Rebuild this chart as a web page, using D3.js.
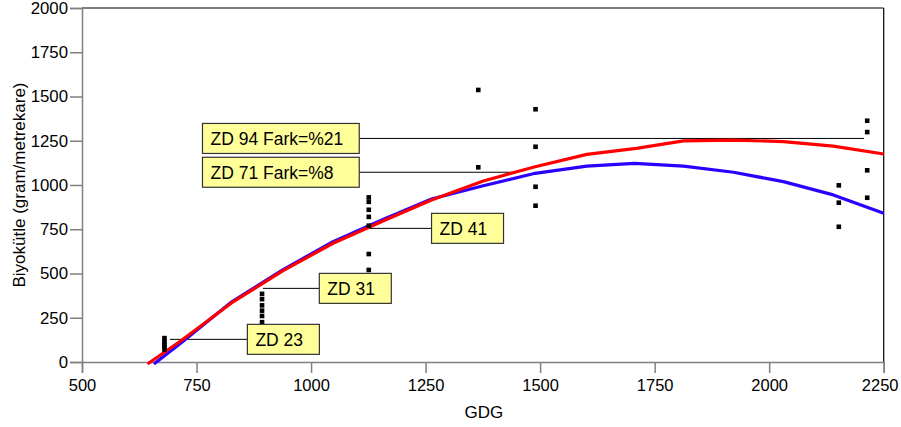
<!DOCTYPE html>
<html>
<head>
<meta charset="utf-8">
<script src="https://cdn.jsdelivr.net/npm/d3@7"></script>
<style>
  html, body { margin: 0; padding: 0; background: #fff; }
  svg { display: block; font-family: "Liberation Sans", Arial, sans-serif; }
</style>
</head>
<body>
<svg id="chart" width="901" height="427"></svg>
<script>
// Observed biomass samples (GDG, g/m²)
const obsGDG = [
  680, 680, 680, 680, 680,
  893, 893, 893, 893, 893, 893,
  1126, 1126, 1126, 1126, 1126, 1126, 1126,
  1365, 1365,
  1490, 1490, 1490, 1490,
  2152, 2152, 2152,
  2214, 2214, 2214, 2214
];
const obsBiomass = [
  135, 115, 100, 85, 70,
  385, 355, 320, 290, 260, 225,
  930, 905, 860, 820, 770, 610, 520,
  1537, 1100,
  1428, 1216, 990, 883,
  998, 900, 764,
  1363, 1299, 1083, 928
];

// Fitted growth curves
const blueGDG = [657, 716, 827, 939, 1048, 1157, 1263, 1376, 1489, 1602, 1706, 1813, 1922, 2031, 2140, 2250];
const blueVal = [-11, 108, 340, 522, 680, 805, 921, 996, 1066, 1107, 1122, 1107, 1072, 1019, 944, 840];
const redGDG  = [643, 716, 827, 939, 1048, 1157, 1263, 1376, 1489, 1602, 1710, 1813, 1922, 2031, 2140, 2250];
const redVal  = [-11, 120, 335, 516, 671, 797, 915, 1023, 1103, 1173, 1207, 1249, 1254, 1245, 1220, 1175];

// Growth stage callouts
const calloutLabels = ["ZD 94 Fark=%21", "ZD 71 Fark=%8", "ZD 41", "ZD 31", "ZD 23"];
const calloutGDG    = [2207, 1449, 1126, 895, 692];
const calloutVal    = [1263, 1072, 755, 416, 128];
const calloutBoxGDG = [763, 763, 1263, 1018, 861];
const calloutGroup  = [0, 0, 1, 2, 3];

// Axis ticks
const xTicks = [500, 750, 1000, 1250, 1500, 1750, 2000, 2250];
const xMinor = [625, 875, 1125, 1375, 1625, 1875, 2125];
const yTicks = [0, 250, 500, 750, 1000, 1250, 1500, 1750, 2000];
const yMinor = [125, 375, 625, 875, 1125, 1375, 1625, 1875];

const svg = d3.select("#chart");
const plotLeft = 82, plotRight = 883.7, plotTop = 8, plotBottom = 362;

const x = d3.scaleLinear().domain([500, 2250]).range([plotLeft, plotRight]);
const y = d3.scaleLinear().domain([0, 2000]).range([plotBottom, plotTop]);

const axisGrey = "#808080";

// frame: top and right edges
svg.append("line").attr("x1", plotLeft).attr("x2", plotRight).attr("y1", plotTop).attr("y2", plotTop)
  .attr("stroke", "#000").attr("stroke-width", 1.2);
svg.append("line").attr("x1", plotRight).attr("x2", plotRight).attr("y1", plotTop).attr("y2", plotBottom)
  .attr("stroke", "#000").attr("stroke-width", 1.2);

// y axis
const gy = svg.append("g").attr("transform", `translate(${plotLeft},0)`);
gy.call(d3.axisLeft(y).tickValues(yMinor).tickSize(7).tickFormat(""));
gy.call(d3.axisLeft(y).tickValues(yTicks).tickSize(12).tickPadding(2).tickFormat(d3.format("d")));
gy.selectAll("path").attr("stroke", axisGrey).attr("stroke-width", 1.5);
gy.selectAll("line").attr("stroke", axisGrey).attr("stroke-width", 1.5);
gy.selectAll("text").attr("fill", "#000").style("font-size", "16.8px");

// x axis
const gx = svg.append("g").attr("transform", `translate(0,${plotBottom})`);
gx.call(d3.axisBottom(x).tickValues(xMinor).tickSize(6).tickFormat(""));
gx.call(d3.axisBottom(x).tickValues(xTicks).tickSize(11).tickPadding(6).tickFormat(d3.format("d")));
gx.selectAll("path").attr("stroke", axisGrey).attr("stroke-width", 1.5);
gx.selectAll("line").attr("stroke", axisGrey).attr("stroke-width", 1.5);
gx.selectAll("text").attr("fill", "#000").style("font-size", "16.5px");
// keep the last label inside the canvas
gx.selectAll(".tick text").filter(d => d === 2250).attr("dx", -4);

// axis titles
svg.append("text")
  .attr("x", (plotLeft + plotRight) / 2 + 1).attr("y", 418)
  .attr("text-anchor", "middle").style("font-size", "17px")
  .text("GDG");
svg.append("text")
  .attr("transform", `translate(25,${(plotTop + plotBottom) / 2}) rotate(-90)`)
  .attr("text-anchor", "middle").style("font-size", "17px")
  .text("Biyokütle (gram/metrekare)");

// callout leader lines
const callouts = calloutLabels.map((t, i) => ({
  label: t, gdg: calloutGDG[i], val: calloutVal[i], boxGDG: calloutBoxGDG[i], group: calloutGroup[i]
}));
svg.append("g").selectAll("line").data(callouts).join("line")
  .attr("x1", d => x(d.gdg)).attr("x2", d => x(d.boxGDG))
  .attr("y1", d => y(d.val)).attr("y2", d => y(d.val))
  .attr("stroke", "#000").attr("stroke-width", 1);

// fitted curves
const line = d3.line().x(d => x(d[0])).y(d => y(d[1]));
svg.append("path")
  .datum(blueGDG.map((g, i) => [g, blueVal[i]]))
  .attr("d", line).attr("fill", "none")
  .attr("stroke", "#2b00ff").attr("stroke-width", 3.2).attr("stroke-linejoin", "round");
svg.append("path")
  .datum(redGDG.map((g, i) => [g, redVal[i]]))
  .attr("d", line).attr("fill", "none")
  .attr("stroke", "#ff0000").attr("stroke-width", 3.2).attr("stroke-linejoin", "round");

// observation markers
const sq = 4.6;
svg.append("g").selectAll("rect").data(obsGDG.map((g, i) => [g, obsBiomass[i]])).join("rect")
  .attr("x", d => x(d[0]) - sq / 2).attr("y", d => y(d[1]) - sq / 2)
  .attr("width", sq).attr("height", sq).attr("fill", "#000");

// callout boxes
const boxH = 30, padL = 8, padR = 16;
const boxes = svg.append("g").selectAll("g").data(callouts).join("g");
const rects = boxes.append("rect")
  .attr("fill", "#ffff99").attr("stroke", "#333").attr("stroke-width", 1.2);
const texts = boxes.append("text")
  .attr("x", d => x(d.boxGDG) + padL)
  .attr("y", d => y(d.val) + 7)
  .style("font-size", "17.5px")
  .text(d => d.label);
const widths = {};
texts.each(function (d) {
  const w = this.getComputedTextLength();
  widths[d.group] = Math.max(widths[d.group] || 0, w);
});
rects
  .attr("x", d => x(d.boxGDG))
  .attr("y", d => y(d.val) - boxH / 2)
  .attr("width", d => Math.max(widths[d.group] + padL + padR, 72))
  .attr("height", boxH);
</script>
</body>
</html>
